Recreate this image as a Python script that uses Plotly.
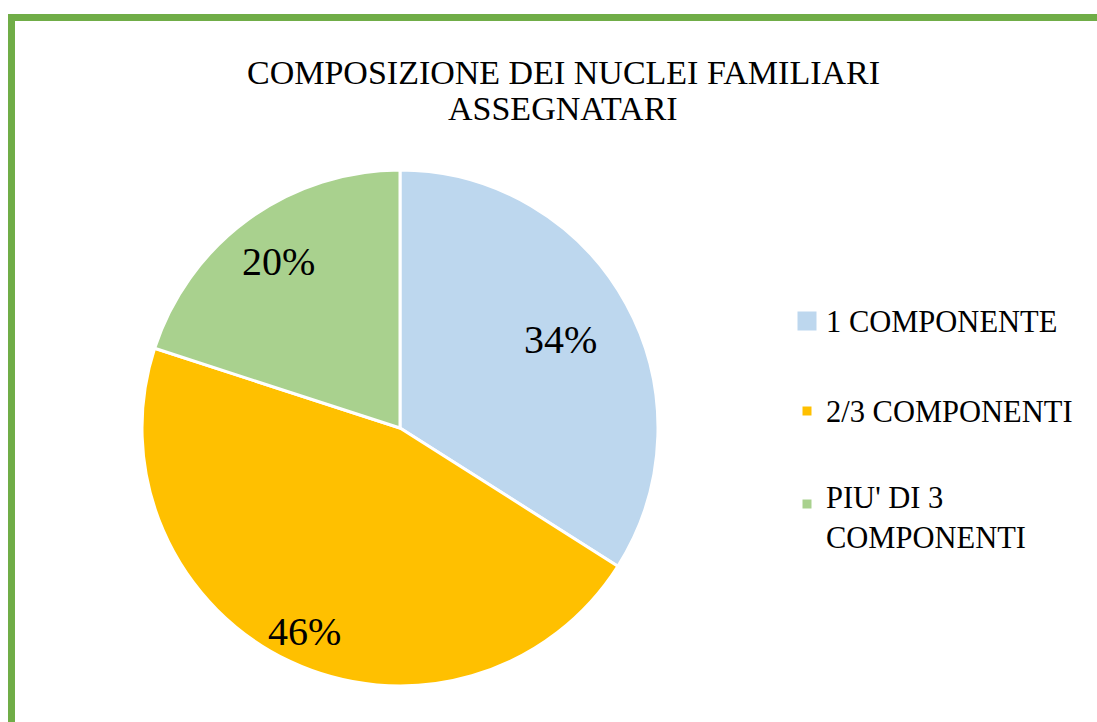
import math
import plotly.graph_objects as go

labels = ["1 COMPONENTE", "2/3 COMPONENTI", "PIU' DI 3<br>COMPONENTI"]
values = [34, 46, 20]
colors = ["#BDD7EE", "#FFC000", "#A9D18E"]
title_lines = ["COMPOSIZIONE DEI NUCLEI FAMILIARI", "ASSEGNATARI"]

W, H = 1097, 722
FONT = "Liberation Serif"

def px(x):
    return x / W

def py(y):
    return 1 - y / H

# pie geometry (pixels)
CX, CY, R = 400, 428, 258
label_radius = [0.71, 0.87, 0.80]  # data-label placement, fraction of radius

fig = go.Figure()
fig.add_trace(go.Pie(
    labels=labels, values=values, sort=False, direction="clockwise", rotation=0,
    marker=dict(colors=colors, line=dict(color="white", width=3)),
    textinfo="none",
    domain=dict(x=[px(CX - R), px(CX + R)], y=[py(CY + R), py(CY - R)]),
    showlegend=False, hoverinfo="label+percent",
))

annotations = []
total = sum(values)
cum = 0
for v, rf in zip(values, label_radius):
    mid = (cum + v / 2) / total * 2 * math.pi
    cum += v
    lx = CX + rf * R * math.sin(mid)
    ly = CY - rf * R * math.cos(mid)
    annotations.append(dict(text=f"{round(100 * v / total)}%", x=px(lx), y=py(ly),
                            xref="paper", yref="paper", showarrow=False,
                            xanchor="center", yanchor="middle",
                            font=dict(family=FONT, size=40, color="black")))

for i, line in enumerate(title_lines):
    annotations.append(dict(text=line, x=px(563), y=py(72 + 36 * i), xref="paper", yref="paper",
                            showarrow=False, xanchor="center", yanchor="middle",
                            font=dict(family=FONT, size=34, color="black")))

shapes = [dict(type="rect", xref="paper", yref="paper", x0=px(11.5), x1=px(1300), y0=py(900), y1=py(17.5),
               line=dict(color="#70AD47", width=7), fillcolor="rgba(0,0,0,0)", layer="below")]

leg_y = [321, 411, 497]
leg_sz = [19, 9, 9]
for lab, col, yy, sz in zip(labels, colors, leg_y, leg_sz):
    cy = yy if "<br>" not in lab else yy + 7
    shapes.append(dict(type="rect", xref="paper", yref="paper",
                       x0=px(807 - sz / 2), x1=px(807 + sz / 2), y0=py(cy + sz / 2), y1=py(cy - sz / 2),
                       fillcolor=col, line=dict(width=0)))
    annotations.append(dict(text=lab, x=px(824), y=py(yy - 18), xref="paper", yref="paper",
                            showarrow=False, xanchor="left", yanchor="top", align="left",
                            font=dict(family=FONT, size=30.5, color="black")))

fig.update_layout(width=W, height=H, margin=dict(l=0, r=0, t=0, b=0),
                  paper_bgcolor="white", plot_bgcolor="white",
                  annotations=annotations, shapes=shapes)
fig.write_html("out.html", config={"displayModeBar": False},
               post_script="document.body.style.margin='0';")
